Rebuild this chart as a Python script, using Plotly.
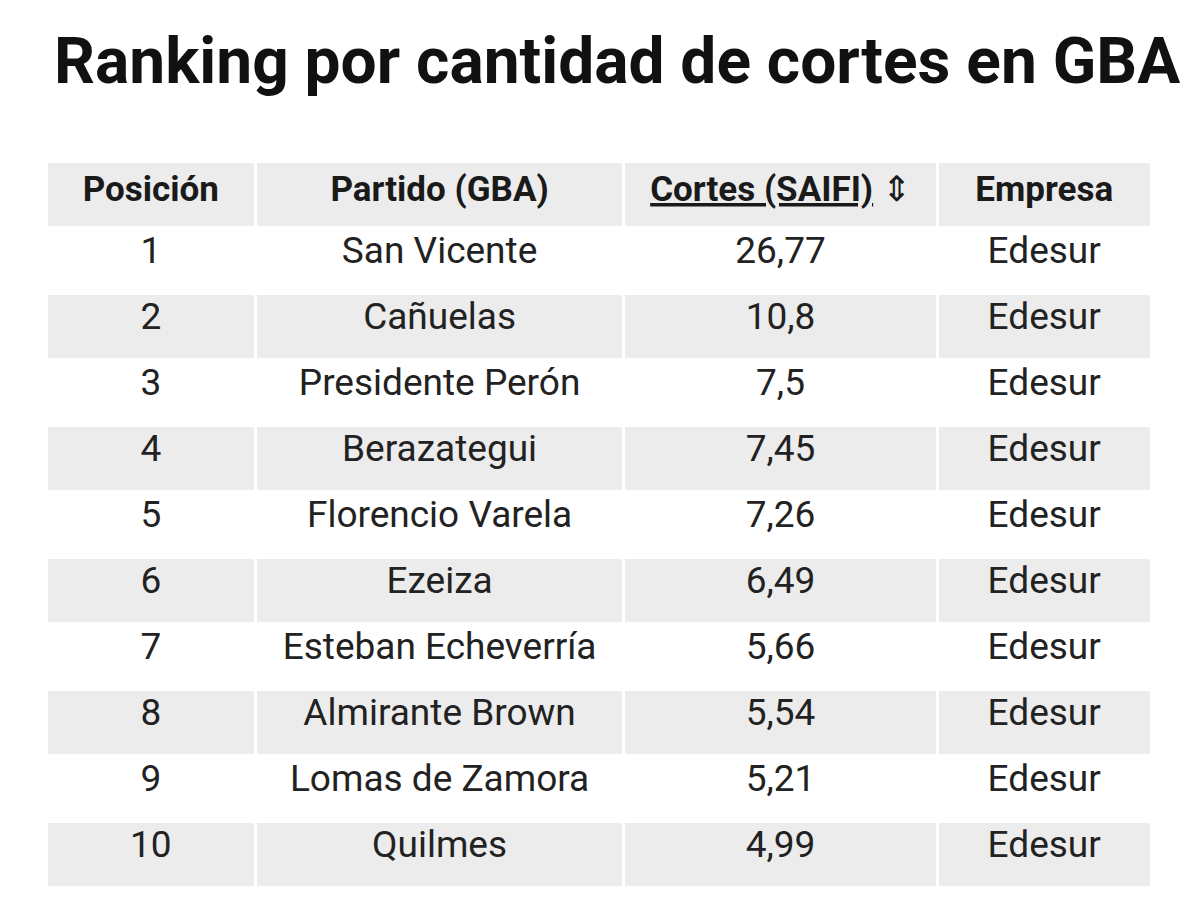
import plotly.graph_objects as go

posicion = [str(i) for i in range(1, 11)]
partido = ["San Vicente", "Cañuelas", "Presidente Perón", "Berazategui", "Florencio Varela",
           "Ezeiza", "Esteban Echeverría", "Almirante Brown", "Lomas de Zamora", "Quilmes"]
cortes = ["26,77", "10,8", "7,5", "7,45", "7,26", "6,49", "5,66", "5,54", "5,21", "4,99"]
empresa = ["Edesur"] * 10
headers = ["<b>Posición</b>", "<b>Partido (GBA)</b>",
           "<b><u>Cortes (SAIFI)</u></b> ⇕", "<b>Empresa</b>"]

row_colors = ["#ffffff" if i % 2 == 0 else "#ececec" for i in range(10)]

fig = go.Figure(go.Table(
    columnwidth=[209, 367, 313, 213],
    header=dict(values=headers, fill_color="#ececec", line=dict(color="white", width=3),
                align="center", height=66,
                font=dict(family="Roboto", size=35, color="#1a1a1a")),
    cells=dict(values=[posicion, partido, cortes, empresa],
               fill_color=[row_colors] * 4, line=dict(color="white", width=3),
               align="center", height=66,
               font=dict(family="Roboto", size=37, color="#222222")),
    domain=dict(x=[38 / 1200, 1143 / 1200], y=[0.0, 1 - 153 / 908]),
))

fig.add_annotation(text="<b>Ranking por cantidad de cortes en GBA</b>", xref="paper", yref="paper",
                   x=44 / 1200, y=1 - 14 / 908, xanchor="left", yanchor="top", showarrow=False,
                   font=dict(family="Roboto", size=64, color="#111111"))

fig.update_layout(width=1200, height=908, margin=dict(l=0, r=0, t=0, b=0),
                  paper_bgcolor="white", plot_bgcolor="white")
fig.write_html("out.html")
